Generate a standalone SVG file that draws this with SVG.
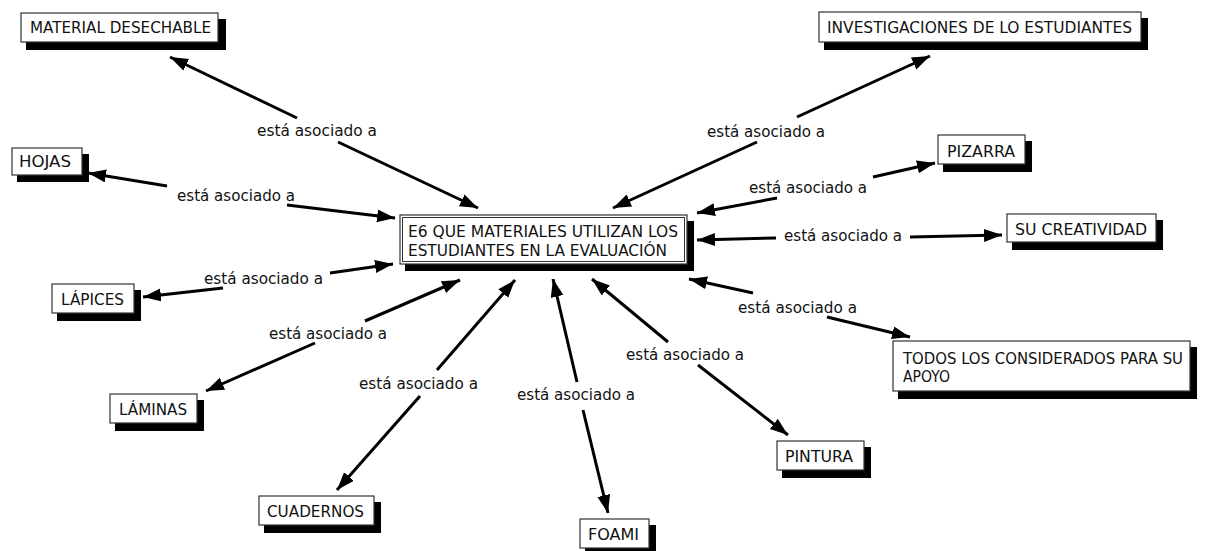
<svg xmlns="http://www.w3.org/2000/svg" width="1226" height="551" viewBox="0 0 1226 551">
<style>
text{font-family:"DejaVu Sans Condensed","DejaVu Sans",sans-serif;font-size:16px;fill:#111;}
.box{fill:#fff;stroke:#333;stroke-width:1.2;}
.sh{fill:#000;}
.ln{stroke:#000;stroke-width:3;fill:none;marker-end:url(#ah);}
</style>
<defs>
<marker id="ah" markerUnits="userSpaceOnUse" markerWidth="20" markerHeight="14" refX="18" refY="6.5" orient="auto">
<path d="M0,0 L18,6.5 L0,13 z" fill="#000"/>
</marker>
</defs>
<rect width="1226" height="551" fill="#fff"/>
<g id="connectors">
<line class="ln" x1="297" y1="118" x2="170" y2="57"/>
<line class="ln" x1="338" y1="142" x2="478" y2="208"/>
<line class="ln" x1="167" y1="186" x2="88" y2="173"/>
<line class="ln" x1="287" y1="205" x2="395" y2="218"/>
<line class="ln" x1="223" y1="288" x2="143" y2="297"/>
<line class="ln" x1="330" y1="273" x2="393" y2="264"/>
<line class="ln" x1="315" y1="343" x2="206" y2="391"/>
<line class="ln" x1="365" y1="321" x2="460" y2="280"/>
<line class="ln" x1="420" y1="396" x2="337" y2="490"/>
<line class="ln" x1="437" y1="370" x2="515" y2="280"/>
<line class="ln" x1="583" y1="410" x2="608" y2="513"/>
<line class="ln" x1="577" y1="382" x2="553" y2="279"/>
<line class="ln" x1="698" y1="365" x2="788" y2="435"/>
<line class="ln" x1="668" y1="342" x2="592" y2="279"/>
<line class="ln" x1="827" y1="317" x2="910" y2="337"/>
<line class="ln" x1="753" y1="293" x2="689" y2="279"/>
<line class="ln" x1="910" y1="237" x2="1002" y2="235"/>
<line class="ln" x1="776" y1="238" x2="697" y2="240"/>
<line class="ln" x1="873" y1="177" x2="935" y2="163"/>
<line class="ln" x1="777" y1="198" x2="697" y2="213"/>
<line class="ln" x1="797" y1="117" x2="930" y2="56"/>
<line class="ln" x1="757" y1="142" x2="613" y2="208"/>
</g>
<g id="labels">
<text x="257" y="136" textLength="120" lengthAdjust="spacingAndGlyphs">está asociado a</text>
<text x="177" y="201" textLength="118" lengthAdjust="spacingAndGlyphs">está asociado a</text>
<text x="204" y="284" textLength="119" lengthAdjust="spacingAndGlyphs">está asociado a</text>
<text x="269" y="339" textLength="118" lengthAdjust="spacingAndGlyphs">está asociado a</text>
<text x="359" y="389" textLength="119" lengthAdjust="spacingAndGlyphs">está asociado a</text>
<text x="517" y="400" textLength="118" lengthAdjust="spacingAndGlyphs">está asociado a</text>
<text x="626" y="360" textLength="118" lengthAdjust="spacingAndGlyphs">está asociado a</text>
<text x="738" y="313" textLength="119" lengthAdjust="spacingAndGlyphs">está asociado a</text>
<text x="784" y="241" textLength="118" lengthAdjust="spacingAndGlyphs">está asociado a</text>
<text x="749" y="193" textLength="118" lengthAdjust="spacingAndGlyphs">está asociado a</text>
<text x="707" y="137" textLength="118" lengthAdjust="spacingAndGlyphs">está asociado a</text>
</g>
<g id="main">
<rect class="sh" x="405" y="221" width="289" height="50"/>
<rect class="box" x="400" y="215" width="287" height="49"/>
<rect fill="none" stroke="#333" stroke-width="1" x="402.5" y="217.5" width="282" height="44"/>
<text x="408" y="237" textLength="270" lengthAdjust="spacingAndGlyphs">E6 QUE MATERIALES UTILIZAN LOS</text>
<text x="408" y="256" textLength="259" lengthAdjust="spacingAndGlyphs">ESTUDIANTES EN LA EVALUACIÓN</text>
</g>
<g id="material">
<rect class="sh" x="26" y="19" width="200" height="31"/>
<rect class="box" x="21" y="13" width="197" height="29"/>
<text x="30" y="33" textLength="181" lengthAdjust="spacingAndGlyphs">MATERIAL DESECHABLE</text>
</g>
<g id="hojas">
<rect class="sh" x="17" y="154" width="72" height="28"/>
<rect class="box" x="12" y="148" width="70" height="27"/>
<text x="19" y="167" textLength="52" lengthAdjust="spacingAndGlyphs">HOJAS</text>
</g>
<g id="lapices">
<rect class="sh" x="57" y="290" width="84" height="31"/>
<rect class="box" x="52" y="284" width="82" height="29"/>
<text x="61" y="305" textLength="63" lengthAdjust="spacingAndGlyphs">LÁPICES</text>
</g>
<g id="laminas">
<rect class="sh" x="115" y="400" width="89" height="31"/>
<rect class="box" x="110" y="394" width="87" height="29"/>
<text x="119" y="415" textLength="68" lengthAdjust="spacingAndGlyphs">LÁMINAS</text>
</g>
<g id="cuadernos">
<rect class="sh" x="264" y="502" width="117" height="31"/>
<rect class="box" x="259" y="496" width="115" height="29"/>
<text x="267" y="517" textLength="97" lengthAdjust="spacingAndGlyphs">CUADERNOS</text>
</g>
<g id="foami">
<rect class="sh" x="585" y="525" width="71" height="31"/>
<rect class="box" x="580" y="519" width="69" height="29"/>
<text x="588" y="540" textLength="51" lengthAdjust="spacingAndGlyphs">FOAMI</text>
</g>
<g id="pintura">
<rect class="sh" x="782" y="447" width="89" height="31"/>
<rect class="box" x="777" y="441" width="87" height="29"/>
<text x="785" y="462" textLength="68" lengthAdjust="spacingAndGlyphs">PINTURA</text>
</g>
<g id="todos">
<rect class="sh" x="898" y="347" width="299" height="52"/>
<rect class="box" x="893" y="341" width="297" height="50"/>
<text x="903" y="364" textLength="280" lengthAdjust="spacingAndGlyphs">TODOS LOS CONSIDERADOS PARA SU</text>
<text x="903" y="382" textLength="47" lengthAdjust="spacingAndGlyphs">APOYO</text>
</g>
<g id="sucreatividad">
<rect class="sh" x="1012" y="220" width="151" height="30"/>
<rect class="box" x="1007" y="214" width="149" height="28"/>
<text x="1015" y="235" textLength="132" lengthAdjust="spacingAndGlyphs">SU CREATIVIDAD</text>
</g>
<g id="pizarra">
<rect class="sh" x="943" y="141" width="89" height="31"/>
<rect class="box" x="938" y="135" width="87" height="29"/>
<text x="947" y="157" textLength="68" lengthAdjust="spacingAndGlyphs">PIZARRA</text>
</g>
<g id="investigaciones">
<rect class="sh" x="824" y="18" width="324" height="32"/>
<rect class="box" x="819" y="12" width="322" height="30"/>
<text x="827" y="33" textLength="305" lengthAdjust="spacingAndGlyphs">INVESTIGACIONES DE LO ESTUDIANTES</text>
</g>
</svg>
